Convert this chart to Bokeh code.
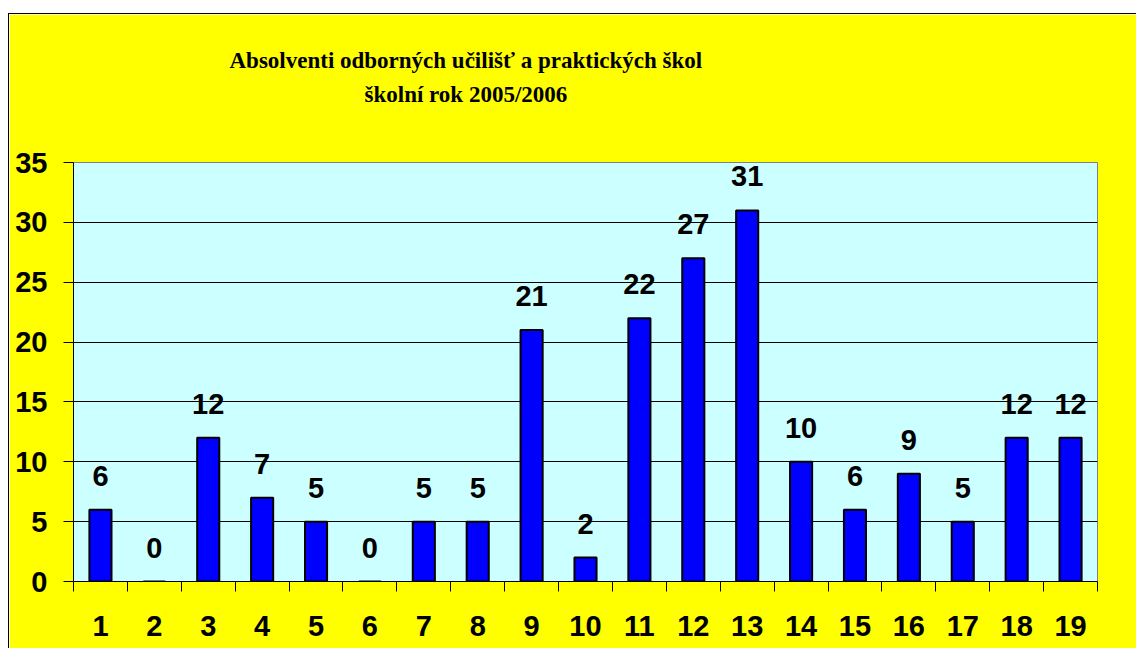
from bokeh.plotting import figure
from bokeh.models import FixedTicker, Title, ColumnDataSource, Range1d, Spacer
from bokeh.layouts import column, row
from bokeh.embed import file_html
from bokeh.resources import INLINE
from bokeh.core.properties import value

categories = [str(i) for i in range(1, 20)]
values = [6, 0, 12, 7, 5, 0, 5, 5, 21, 2, 22, 27, 31, 10, 6, 9, 5, 12, 12]
y_ticks = [0, 5, 10, 15, 20, 25, 30, 35]
title_line1 = "Absolventi odborných učilišť a praktických škol"
title_line2 = "školní rok 2005/2006"

xs = list(range(1, len(categories) + 1))
src = ColumnDataSource(dict(x=xs, v=values, lab=[str(v) for v in values]))

p = figure(width=1128, height=635, output_backend="svg", toolbar_location=None,
           x_range=Range1d(0.5, len(categories) + 0.5), y_range=Range1d(0, 35),
           min_border_left=64, min_border_top=148, min_border_right=40, min_border_bottom=68)
p.border_fill_color = "#FFFF00"
p.background_fill_color = "#CCFFFF"
p.outline_line_color = "#808080"
p.outline_line_width = 1
p.styles = {"border-left": "1px solid black", "border-top": "1px solid black"}

p.vbar(x="x", top="v", width=0.41, source=src, fill_color="#0000FF",
       line_color="black", line_width=2)
p.text(x="x", y="v", text="lab", source=src, text_align="center",
       text_baseline="alphabetic", y_offset=-34,
       text_font=value("Liberation Sans"), text_font_style="bold",
       text_font_size="29px", text_color="black")

fs = "29px"
p.xaxis.ticker = FixedTicker(ticks=xs, minor_ticks=[x + 0.5 for x in range(0, len(categories) + 1)])
p.xaxis.major_label_overrides = {x: c for x, c in zip(xs, categories)}
p.xaxis.major_tick_line_color = None
p.xaxis.major_tick_out = 10
p.xaxis.major_tick_in = 0
p.xaxis.minor_tick_out = 10
p.xaxis.minor_tick_in = 0
p.xaxis.minor_tick_line_color = "black"
p.xaxis.major_label_standoff = 24

p.yaxis.ticker = FixedTicker(ticks=y_ticks)
p.yaxis.minor_tick_line_color = None
p.yaxis.major_tick_out = 10
p.yaxis.major_tick_in = 0
p.yaxis.major_label_standoff = 16

for ax in (p.xaxis, p.yaxis):
    ax.axis_line_color = "black"
    ax.major_label_text_font = "Liberation Sans"
    ax.major_label_text_font_style = "bold"
    ax.major_label_text_font_size = fs
    ax.major_label_text_color = "black"

p.xgrid.grid_line_color = None
p.ygrid.ticker = FixedTicker(ticks=y_ticks[1:-1])
p.ygrid.grid_line_color = "black"
p.ygrid.grid_line_width = 1

tkw = dict(align="left", text_font="Liberation Serif", text_font_style="bold",
           text_font_size="23px", text_color="black")
# near-invisible innermost title acts as a gap between the plot area and the title lines
p.add_layout(Title(text=" ", standoff=51, align="left", text_font_size="1px",
                   text_color="#FFFF00"), "above")
p.add_layout(Title(text=title_line2, offset=291, standoff=4, **tkw), "above")
p.add_layout(Title(text=title_line1, offset=156, standoff=10, **tkw), "above")

layout = column(Spacer(height=13), row(Spacer(width=8), p))
open("out.html", "w").write(file_html(layout, INLINE))
